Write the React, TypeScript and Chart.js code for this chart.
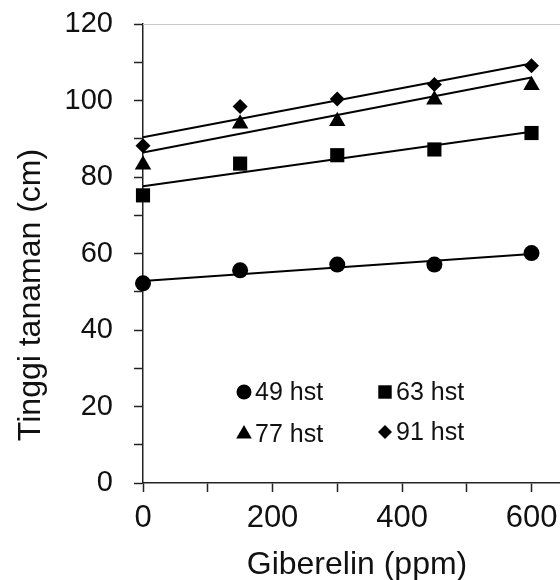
import React, { useEffect, useRef } from 'react';
import { Chart, registerables } from 'chart.js';

Chart.register(...registerables);

// Data
const giberelin = [0, 150, 300, 450, 600];
const hst49 = [52.2, 55.6, 57.1, 57.1, 60.1];
const hst63 = [75.2, 83.5, 85.7, 87.2, 91.5];
const hst77 = [83.2, 93.9, 94.6, 100.2, 104.0];
const hst91 = [88.2, 98.4, 100.4, 104.2, 109.1];

// Linear trend lines (endpoints at 0 and 600 ppm)
const trendX = [0, 600];
const trend49 = [52.8, 59.9];
const trend63 = [77.6, 91.8];
const trend77 = [86.4, 106.0];
const trend91 = [90.4, 109.7];

const seriesLabels = ['49 hst', '63 hst', '77 hst', '91 hst'];
const xTickValues = [0, 100, 200, 300, 400, 500, 600];
const yTickValues = [0, 10, 20, 30, 40, 50, 60, 70, 80, 90, 100, 110, 120];
const xTitle = 'Giberelin (ppm)';
const yTitle = 'Tinggi tanaman (cm)';

const FONT = '"Liberation Sans", Arial, Helvetica, sans-serif';
const INK = '#111';

const toPoints = (xs: number[], ys: number[]) => xs.map((x, i) => ({ x, y: ys[i] }));

function drawMarker(ctx: CanvasRenderingContext2D, style: string, x: number, y: number, r: number) {
  ctx.beginPath();
  if (style === 'circle') {
    ctx.arc(x, y, r, 0, Math.PI * 2);
  } else if (style === 'rect') {
    const s = r * Math.SQRT1_2;
    ctx.rect(x - s, y - s, 2 * s, 2 * s);
  } else if (style === 'triangle') {
    for (let k = 0; k < 3; k++) {
      const a = (k * 2 * Math.PI) / 3;
      const px = x + Math.sin(a) * r;
      const py = y - Math.cos(a) * r;
      if (k === 0) ctx.moveTo(px, py);
      else ctx.lineTo(px, py);
    }
    ctx.closePath();
  } else if (style === 'rectRot') {
    ctx.moveTo(x, y - r);
    ctx.lineTo(x + r, y);
    ctx.lineTo(x, y + r);
    ctx.lineTo(x - r, y);
    ctx.closePath();
  }
  ctx.fillStyle = '#000';
  ctx.fill();
}

const decorPlugin = {
  id: 'decor',
  afterDraw(chart: any) {
    const ctx: CanvasRenderingContext2D = chart.ctx;
    const area = chart.chartArea;
    ctx.save();
    // light top border line of the plot area
    ctx.strokeStyle = '#c8c8c8';
    ctx.lineWidth = 1;
    ctx.beginPath();
    ctx.moveTo(area.left, area.top + 0.5);
    ctx.lineTo(area.right, area.top + 0.5);
    ctx.stroke();

    // legend inside the plot area
    const legendItems = [
      { style: 'circle', r: 7.5, cx: 244, cy: 392, label: seriesLabels[0] },
      { style: 'rect', r: 9.5, cx: 385, cy: 392, label: seriesLabels[1] },
      { style: 'triangle', r: 9, cx: 244, cy: 434, label: seriesLabels[2] },
      { style: 'rectRot', r: 7, cx: 385, cy: 432, label: seriesLabels[3] },
    ];
    ctx.font = `25px ${FONT}`;
    ctx.textAlign = 'left';
    ctx.textBaseline = 'alphabetic';
    legendItems.forEach((it) => {
      drawMarker(ctx, it.style, it.cx, it.cy, it.r);
      ctx.fillStyle = INK;
      ctx.fillText(it.label, it.cx + 11, it.cy + 8);
    });

    // axis titles
    ctx.font = `32px ${FONT}`;
    ctx.fillStyle = INK;
    ctx.textAlign = 'center';
    ctx.textBaseline = 'alphabetic';
    ctx.fillText(xTitle, 357, 574);

    ctx.save();
    ctx.translate(40, 295);
    ctx.rotate(-Math.PI / 2);
    ctx.fillText(yTitle, 0, 0);
    ctx.restore();

    ctx.restore();
  },
};

export default function App() {
  const canvasRef = useRef<HTMLCanvasElement | null>(null);

  useEffect(() => {
    if (!canvasRef.current) return;
    const lineDs = (data: number[]) => ({
      type: 'line' as const,
      data: toPoints(trendX, data),
      borderColor: '#000',
      borderWidth: 2,
      pointRadius: 0,
      fill: false,
      showLine: true,
      clip: false,
      order: 2,
    });
    const markerDs = (label: string, data: number[], style: string, r: number) => ({
      label,
      data: toPoints(giberelin, data),
      pointStyle: style,
      pointRadius: r,
      pointHoverRadius: r,
      backgroundColor: '#000',
      borderColor: '#000',
      borderWidth: 0,
      showLine: false,
      clip: false,
      order: 1,
    });

    const axisGrid = {
      drawOnChartArea: false,
      drawTicks: true,
      tickLength: 9,
      tickColor: '#222',
      tickWidth: 1.5,
      color: '#222',
    };

    const chart = new Chart(canvasRef.current, {
      type: 'scatter',
      data: {
        datasets: [
          markerDs(seriesLabels[0], hst49, 'circle', 8),
          markerDs(seriesLabels[1], hst63, 'rect', 10),
          markerDs(seriesLabels[2], hst77, 'triangle', 9.5),
          markerDs(seriesLabels[3], hst91, 'rectRot', 7.5),
          lineDs(trend49),
          lineDs(trend63),
          lineDs(trend77),
          lineDs(trend91),
        ] as any,
      },
      options: {
        responsive: false,
        animation: false,
        layout: { autoPadding: false, padding: { top: 24, right: 0, bottom: 0, left: 0 } },
        plugins: {
          legend: { display: false },
          tooltip: { enabled: false },
          title: { display: false },
        },
        scales: {
          x: {
            type: 'linear',
            min: 0,
            max: 644,
            afterBuildTicks: (s: any) => {
              s.ticks = xTickValues.map((v) => ({ value: v }));
            },
            afterFit: (s: any) => {
              s.height = 97;
              s.paddingLeft = 0;
              s.paddingRight = 0;
              s.paddingTop = 0;
              s.paddingBottom = 0;
            },
            ticks: {
              autoSkip: false,
              maxRotation: 0,
              padding: 8,
              color: INK,
              font: { family: FONT, size: 31 },
              callback: (v: any) => (Number(v) % 200 === 0 ? String(v) : ''),
            },
            grid: axisGrid,
            border: { display: true, color: '#222', width: 1.5 },
          },
          y: {
            type: 'linear',
            min: 0,
            max: 120,
            afterBuildTicks: (s: any) => {
              s.ticks = yTickValues.map((v) => ({ value: v }));
            },
            afterFit: (s: any) => {
              s.width = 143;
              s.paddingLeft = 0;
              s.paddingRight = 0;
              s.paddingTop = 0;
              s.paddingBottom = 0;
            },
            ticks: {
              autoSkip: false,
              padding: 21,
              color: INK,
              font: { family: FONT, size: 29 },
              callback: (v: any) => (Number(v) % 20 === 0 ? String(v) : ''),
            },
            grid: axisGrid,
            border: { display: true, color: '#222', width: 1.5 },
          },
        },
      } as any,
      plugins: [decorPlugin],
    });
    return () => chart.destroy();
  }, []);

  return (
    <div style={{ position: 'absolute', left: 0, top: 0, width: 560, height: 580, background: '#fff' }}>
      <canvas ref={canvasRef} width={560} height={580} />
    </div>
  );
}
